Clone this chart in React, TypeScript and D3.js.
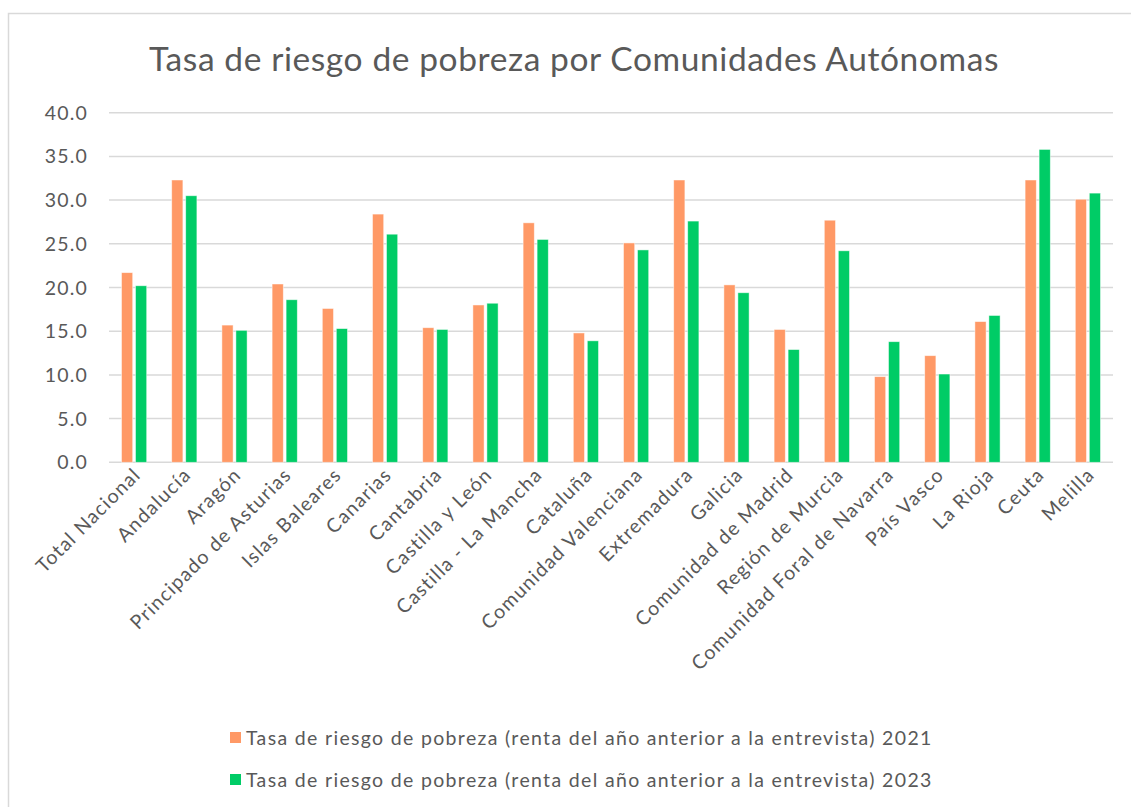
import React from 'react';
import * as d3 from 'd3';

const categories = [
  'Total Nacional', 'Andalucía', 'Aragón', 'Principado de Asturias', 'Islas Baleares',
  'Canarias', 'Cantabria', 'Castilla y León', 'Castilla - La Mancha', 'Cataluña',
  'Comunidad Valenciana', 'Extremadura', 'Galicia', 'Comunidad de Madrid', 'Región de Murcia',
  'Comunidad Foral de Navarra', 'País Vasco', 'La Rioja', 'Ceuta', 'Melilla',
];

const values2021 = [21.7, 32.3, 15.7, 20.4, 17.6, 28.4, 15.4, 18.0, 27.4, 14.8, 25.1, 32.3, 20.3, 15.2, 27.7, 9.8, 12.2, 16.1, 32.3, 30.1];
const values2023 = [20.2, 30.5, 15.1, 18.6, 15.3, 26.1, 15.2, 18.2, 25.5, 13.9, 24.3, 27.6, 19.4, 12.9, 24.2, 13.8, 10.1, 16.8, 35.8, 30.8];

const seriesNames = [
  'Tasa de riesgo de pobreza (renta del año anterior a la entrevista) 2021',
  'Tasa de riesgo de pobreza (renta del año anterior a la entrevista) 2023',
];
const seriesColors = ['#FF9966', '#00CC66'];
const yTicks = [0, 5, 10, 15, 20, 25, 30, 35, 40];

const W = 1131;
const H = 807;
const font = 'Lato, Calibri, sans-serif';
const textColor = '#595959';

export default function App() {
  const x0 = d3.scaleBand<string>().domain(categories).range([109, 1113]);
  const x1 = d3.scaleBand<number>().domain([0, 1]).range([12.5, 37.7]).paddingInner(0.2);
  const y = d3.scaleLinear().domain([0, 40]).range([462.3, 112.7]);
  const series = [values2021, values2023];

  return (
    <svg width={W} height={H} style={{ position: 'absolute', left: 0, top: 0, display: 'block', background: '#fff' }}>
      {/* chart frame */}
      <path d={`M8.5,${H} V13.5 H${W}`} fill="none" stroke="#d9d9d9" strokeWidth={1.5} />

      <text x={574} y={71} textAnchor="middle" fontFamily={font} fontSize={33.5} letterSpacing={0.6} fill={textColor}>
        Tasa de riesgo de pobreza por Comunidades Autónomas
      </text>

      {/* gridlines + y labels */}
      {yTicks.map(t => (
        <g key={t}>
          <line x1={109} x2={1113} y1={y(t)} y2={y(t)} stroke="#d9d9d9" strokeWidth={1.5} />
          <text x={88} y={y(t)} dy="0.36em" textAnchor="end" fontFamily={font} fontSize={19.5} letterSpacing={1.2} fill={textColor}>
            {d3.format('.1f')(t)}
          </text>
        </g>
      ))}

      {/* bars */}
      {categories.map((c, i) => (
        <g key={c} transform={`translate(${x0(c)},0)`}>
          {series.map((vals, s) => (
            <rect
              key={s}
              x={x1(s)}
              y={y(vals[i])}
              width={x1.bandwidth()}
              height={y(0) - y(vals[i])}
              fill={seriesColors[s]}
              stroke="#ffffff"
              strokeOpacity={0.6}
              strokeWidth={0.8}
            />
          ))}
        </g>
      ))}

      {/* x labels */}
      {categories.map(c => (
        <text
          key={c}
          transform={`translate(${(x0(c) ?? 0) + x0.bandwidth() / 2 + 3},${y(0) + 9}) rotate(-45)`}
          dy="0.35em"
          textAnchor="end"
          fontFamily={font}
          fontSize={19.5}
          letterSpacing={1.25}
          fill={textColor}
        >
          {c}
        </text>
      ))}

      {/* legend */}
      {seriesNames.map((n, s) => (
        <g key={n} transform={`translate(230,${738 + s * 42})`}>
          <rect x={0} y={-6} width={11} height={11} fill={seriesColors[s]} />
          <text x={16} y={0} dy="0.35em" fontFamily={font} fontSize={19.5} letterSpacing={1.33} fill={textColor}>
            {n}
          </text>
        </g>
      ))}
    </svg>
  );
}
